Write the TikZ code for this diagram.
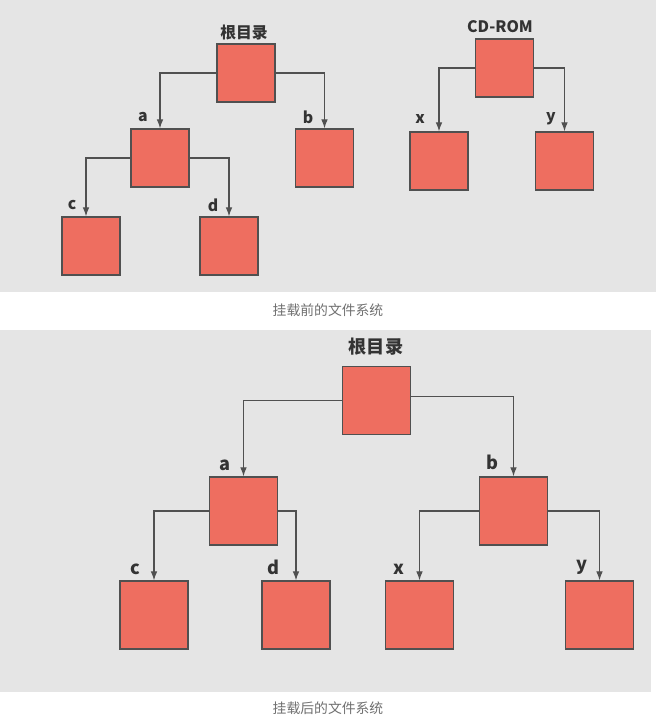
\documentclass[tikz,border=0pt]{standalone}
\usepackage{fontspec}
\setmainfont{Noto Sans CJK SC}
\usetikzlibrary{arrows.meta}

\definecolor{panelgrey}{HTML}{E5E5E5}
\definecolor{boxred}{HTML}{EE6E60}
\definecolor{edgegrey}{HTML}{505050}
\definecolor{textgrey}{HTML}{333333}
\definecolor{capgrey}{HTML}{707070}

\begin{document}
\begin{tikzpicture}[x=0.3mm,y=-0.3mm,>={Latex[length=2.7mm,width=2mm]},
  dir node/.style={rectangle,draw=edgegrey,fill=boxred,line width=1.1pt,
    minimum width=17.4mm,minimum height=17.4mm,inner sep=0pt},
  big dir node/.style={dir node,minimum width=20.4mm,minimum height=20.4mm},
  name label/.style={text=textgrey,inner sep=0pt,font=\bfseries\fontsize{13.5}{15}\selectfont},
  big name label/.style={name label,font=\bfseries\fontsize{15.5}{17}\selectfont},
  caption label/.style={text=capgrey,inner sep=0pt,font=\fontsize{11.8}{13}\selectfont},
  link/.style={->,draw=edgegrey,line width=1pt}]

    % background and the two panels
    \fill[white] (0,0) rectangle (656,721);
    \fill[panelgrey] (0,0) rectangle (656,292);
    \fill[panelgrey] (0,330) rectangle (651,692);

    % before mounting
    \node[dir node] (root1) at (246,73) {};
    \node[dir node] (a1) at (160,158) {};
    \node[dir node] (b1) at (324.5,158) {};
    \node[dir node] (c1) at (91,246) {};
    \node[dir node] (d1) at (229,246) {};
    \node[dir node] (cd) at (504.5,68) {};
    \node[dir node] (x1) at (439,161) {};
    \node[dir node] (y1) at (564.5,161) {};

    \node[name label] (root1 name) at (244,33) {根目录};
    \node[name label] (cd name) at (500,27) {CD-ROM};
    \node[name label] (a1 name) at (143,117) {a};
    \node[name label] (b1 name) at (308,117) {b};
    \node[name label] (c1 name) at (72,205) {c};
    \node[name label] (d1 name) at (213,205) {d};
    \node[name label] (x1 name) at (420,119) {x};
    \node[name label] (y1 name) at (551,119) {y};

    \draw[link] (root1.west) -| (a1.north);
    \draw[link] (root1.east) -| (b1.north);
    \draw[link] (a1.west) -| ([xshift=-1.5mm]c1.north);
    \draw[link] (a1.east) -| (d1.north);
    \draw[link] (cd.west) -| (x1.north);
    \draw[link] (cd.east) -| (y1.north);

    \node[caption label] (before) at (328,310) {挂载前的文件系统};

    % after mounting
    \node[big dir node] (root2) at (376.5,400.5) {};
    \node[big dir node] (a2) at (243.5,511) {};
    \node[big dir node] (b2) at (513.5,511) {};
    \node[big dir node] (c2) at (154,615) {};
    \node[big dir node] (d2) at (296,615) {};
    \node[big dir node] (x2) at (419.5,615) {};
    \node[big dir node] (y2) at (599.5,615) {};

    \node[big name label] (root2 name) at (376,347) {根目录};
    \node[big name label] (a2 name) at (225,465) {a};
    \node[big name label] (b2 name) at (492,462) {b};
    \node[big name label] (c2 name) at (135,569) {c};
    \node[big name label] (d2 name) at (273,567) {d};
    \node[big name label] (x2 name) at (399,569) {x};
    \node[big name label] (y2 name) at (582,567) {y};

    \draw[link] (root2.west) -| (a2.north);
    \draw[link] ([yshift=1.2mm]root2.east) -| (b2.north);
    \draw[link] (a2.west) -| (c2.north);
    \draw[link] (a2.east) -| (d2.north);
    \draw[link] (b2.west) -| (x2.north);
    \draw[link] (b2.east) -| (y2.north);

    \node[caption label] (after) at (328,708) {挂载后的文件系统};

\end{tikzpicture}
\end{document}
